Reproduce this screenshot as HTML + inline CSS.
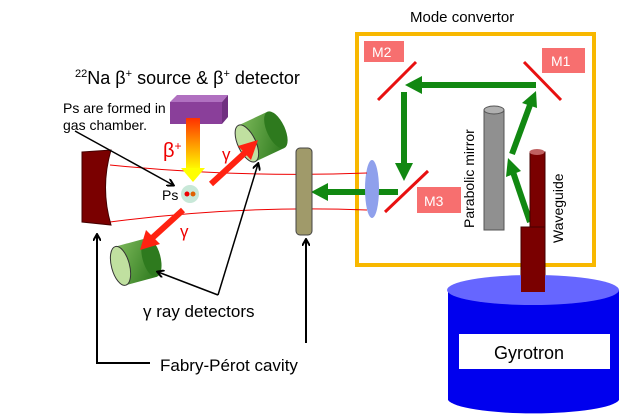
<!DOCTYPE html>
<html><head><meta charset="utf-8"><style>body{margin:0;background:#fff}svg{display:block}text{font-family:"Liberation Sans",sans-serif}</style></head>
<body>
<svg width="623" height="419" viewBox="0 0 623 419" xmlns="http://www.w3.org/2000/svg">
<defs>
<linearGradient id="bg" x1="0" y1="0" x2="0" y2="1"><stop offset="0" stop-color="#ff3000"/><stop offset="1" stop-color="#ffff00"/></linearGradient>
<linearGradient id="gr" x1="0" y1="0" x2="1" y2="1"><stop offset="0" stop-color="#7cb85a"/><stop offset="1" stop-color="#2e7a1e"/></linearGradient>
<marker id="ah" markerWidth="8" markerHeight="8" refX="6" refY="4" orient="auto" markerUnits="userSpaceOnUse"><path d="M0,0 L7,4 L0,8" fill="none" stroke="#000" stroke-width="2"/></marker>
</defs>
<text x="410" y="22" font-size="15">Mode convertor</text>
<rect x="357" y="34" width="237" height="231" fill="none" stroke="#f8b800" stroke-width="4"/>
<rect x="364" y="41" width="40" height="21" fill="#f76f6f"/><text x="372" y="57" font-size="14" fill="#fff">M2</text>
<rect x="542" y="48" width="43" height="25" fill="#f76f6f"/><text x="551" y="66" font-size="14" fill="#fff">M1</text>
<rect x="417" y="187" width="44" height="26" fill="#f76f6f"/><text x="424" y="206" font-size="14" fill="#fff">M3</text>
<g stroke="#e81010" stroke-width="3"><line x1="378" y1="100" x2="416" y2="62"/><line x1="524" y1="62" x2="561" y2="100"/><line x1="385" y1="212" x2="428" y2="171"/></g>
<g stroke="#118811" stroke-width="6" fill="#118811">
<line x1="536" y1="85" x2="420" y2="85"/><polygon points="405,85 422,76 422,94" stroke="none"/>
<line x1="404" y1="92" x2="404" y2="165"/><polygon points="404,181 395,163 413,163" stroke="none"/>
<line x1="398" y1="192" x2="325" y2="192"/><polygon points="311,192 328,183 328,201" stroke="none"/>
<line x1="530" y1="222" x2="513" y2="172"/><polygon points="508,158 506,177 521,171" stroke="none"/>
<line x1="512" y1="154" x2="530" y2="105"/><polygon points="536,91 522,103 537,108" stroke="none"/>
</g>
<rect x="484" y="110" width="20" height="120" fill="#909090" stroke="#555"/>
<ellipse cx="494" cy="110" rx="10" ry="4" fill="#b0b0b0" stroke="#555"/>
<text transform="translate(474,228) rotate(-90)" font-size="14">Parabolic mirror</text>
<rect x="530" y="152" width="15" height="90" fill="#7a0000" stroke="#400"/>
<rect x="521" y="227" width="24" height="65" fill="#7a0000" stroke="#400"/>
<ellipse cx="537" cy="152" rx="7.5" ry="3" fill="#c06060"/>
<text transform="translate(563,243) rotate(-90)" font-size="14">Waveguide</text>
<path d="M448,290 L448,400 A86,15 0 0 0 619,400 L619,290 Z" fill="#0000ee"/>
<ellipse cx="533" cy="290" rx="86" ry="15" fill="#6666ff"/>
<rect x="521" y="270" width="24" height="22" fill="#7a0000"/>
<rect x="459" y="334" width="151" height="35" fill="#fff"/>
<text x="494" y="359" font-size="18">Gyrotron</text>
<ellipse cx="372" cy="189" rx="7" ry="29" fill="#8fa0ec"/>
<path d="M110,165 Q240,178 367,173" fill="none" stroke="#e00" stroke-width="1"/>
<path d="M110,222 Q240,205 367,210" fill="none" stroke="#e00" stroke-width="1"/>
<path d="M82,152 L111,150 Q100,188 111,225 L82,222 Z" fill="#7a0000" stroke="#400"/>
<rect x="296" y="148" width="16" height="87" rx="4" fill="#a09a6a" stroke="#444"/>
<text x="75" y="84" font-size="18"><tspan font-size="11" dy="-7">22</tspan><tspan dy="7">Na β</tspan><tspan font-size="11" dy="-7">+</tspan><tspan dy="7"> source &amp; β</tspan><tspan font-size="11" dy="-7">+</tspan><tspan dy="7"> detector</tspan></text>
<text x="63" y="113" font-size="14">Ps are formed in</text>
<text x="63" y="130" font-size="14">gas chamber.</text>
<polygon points="170,102 177,95 228,95 222,102" fill="#b070c0"/><polygon points="222,102 228,95 228,117 222,124" fill="#703080"/>
<rect x="170" y="102" width="52" height="22" fill="#8a3f9a"/>
<rect x="186" y="118" width="14" height="52" fill="url(#bg)"/><polygon points="181,168 205,168 193,182" fill="#ffff00"/>
<text x="163" y="157" font-size="20" fill="#e00">β<tspan font-size="12" dy="-7">+</tspan></text>
<circle cx="190" cy="194" r="9" fill="#c8e8d8"/><circle cx="187" cy="194" r="2.5" fill="#e00"/><circle cx="193" cy="194" r="2.5" fill="#e06000"/>
<text x="162" y="200" font-size="14">Ps</text>
<line x1="75" y1="131" x2="173" y2="185" stroke="#000" stroke-width="1.5" marker-end="url(#ah)"/>
<g transform="translate(265,135) rotate(-25)"><rect x="-20" y="-20" width="32" height="40" fill="url(#gr)"/><ellipse cx="12" cy="0" rx="9" ry="20" fill="#2e7a1e"/><ellipse cx="-20" cy="0" rx="9" ry="20" fill="#c0e0a0" stroke="#333"/></g>
<g transform="translate(135,262) rotate(-15)"><rect x="-15" y="-20" width="32" height="40" fill="url(#gr)"/><ellipse cx="17" cy="0" rx="9" ry="20" fill="#2e7a1e"/><ellipse cx="-15" cy="0" rx="9" ry="20" fill="#c0e0a0" stroke="#333"/></g>
<g stroke="#f21" stroke-width="6" fill="#f21">
<line x1="211" y1="184" x2="248" y2="150"/><polygon points="258,140 238,146 251,160" stroke="none"/>
<line x1="183" y1="210" x2="150" y2="240"/><polygon points="140,250 146,230 160,244" stroke="none"/>
</g>
<text x="222" y="160" font-size="17" fill="#e00">γ</text>
<text x="180" y="237" font-size="17" fill="#e00">γ</text>
<polyline points="218,295 258,164" fill="none" stroke="#000" stroke-width="1.5" marker-end="url(#ah)"/>
<polyline points="218,295 158,272" fill="none" stroke="#000" stroke-width="1.5" marker-end="url(#ah)"/>
<text x="143" y="317" font-size="17">γ ray detectors</text>
<polyline points="150,363 97,363 97,235" fill="none" stroke="#000" stroke-width="2" marker-end="url(#ah)"/>
<line x1="306" y1="343" x2="306" y2="240" stroke="#000" stroke-width="2" marker-end="url(#ah)"/>
<text x="160" y="371" font-size="17">Fabry-Pérot cavity</text>
</svg>
</body></html>
